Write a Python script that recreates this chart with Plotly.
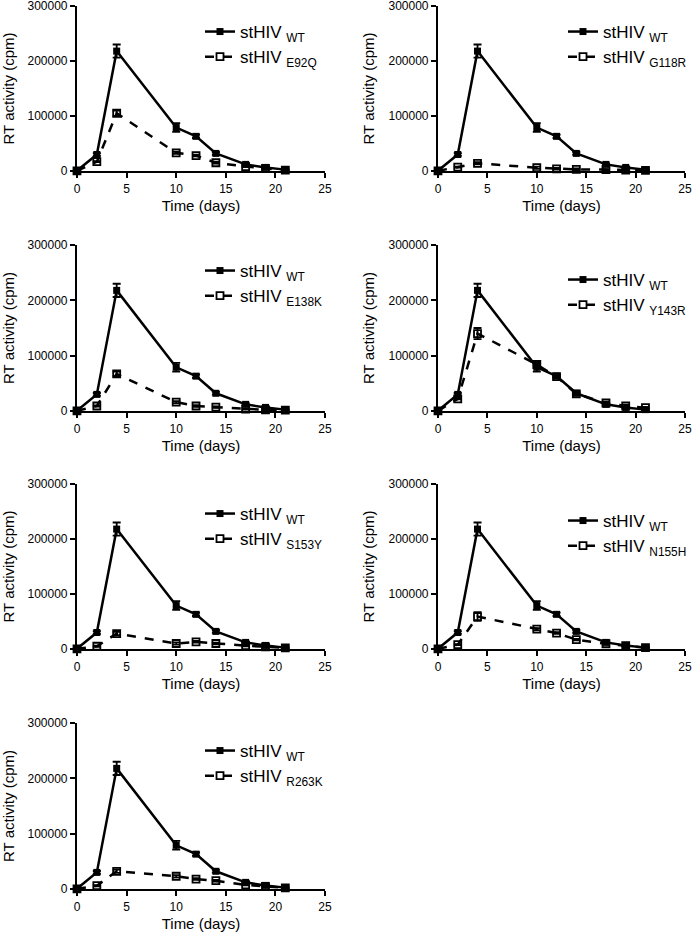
import plotly.graph_objects as go

# ---- data ----
days = [0, 2, 4, 10, 12, 14, 17, 19, 21]
wt = [500, 30000, 218000, 79000, 63000, 32000, 12000, 6500, 2500]
wt_err = [0, 2500, 12000, 8000, 3000, 2500, 2000, 1500, 1000]

mutant_names = ["E92Q", "G118R", "E138K", "Y143R", "S153Y", "N155H", "R263K"]
e92q = [300, 17000, 105000, 33000, 28000, 15000, 8000, 4500, 1500]
g118r = [300, 7000, 14000, 6000, 4000, 3000, 2500, 1500, 1000]
e138k = [300, 9000, 67000, 16000, 9000, 7000, 3500, 2000, 1500]
y143r = [300, 22000, 140000, 84000, 62000, 31000, 14500, 9000, 6000]
s153y = [300, 5000, 28000, 10000, 13000, 10000, 6000, 4000, 2000]
n155h = [300, 8000, 59000, 36000, 29000, 17000, 9500, 6000, 2500]
r263k = [300, 6000, 32000, 23000, 18000, 15000, 7500, 4500, 2000]
mutant_values = [e92q, g118r, e138k, y143r, s153y, n155h, r263k]
mut_err4 = [5000, 2000, 4000, 10000, 3000, 8000, 3000]  # error at day 4

x_ticks = [0, 5, 10, 15, 20, 25]
y_ticks = [0, 100000, 200000, 300000]
x_title = "Time (days)"
y_title = "RT activity (cpm)"

# ---- layout geometry (pixels) ----
W, H = 700, 935
cols = [(77, 325), (438, 685)]
rows = [(6, 171), (245, 411), (484, 649), (723, 889)]
legend_pos = [(200, 14), (563, 14), (200, 253), (563, 262), (200, 496), (563, 503), (200, 733)]

FONT = "Liberation Sans, Arial, Helvetica, sans-serif"

fig = go.Figure()
layout = dict(
    width=W, height=H, margin=dict(l=0, r=0, t=0, b=0, autoexpand=False),
    paper_bgcolor="white", plot_bgcolor="white",
    font=dict(family=FONT, color="black"),
    showlegend=True,
)

for i, (name, vals) in enumerate(zip(mutant_names, mutant_values)):
    r, c = divmod(i, 2)
    x0, x1 = cols[c]
    top, bot = rows[r]
    sfx = "" if i == 0 else str(i + 1)
    xa, ya = "x" + sfx, "y" + sfx
    lg = "legend" + sfx

    layout["xaxis" + sfx] = dict(
        domain=[x0 / W, x1 / W], anchor=ya, range=[0, 25], automargin=False,
        tickvals=x_ticks, showline=True, linecolor="black", linewidth=2.2,
        ticks="outside", ticklen=5, tickwidth=2.2, tickcolor="black",
        showgrid=False, zeroline=False, ticklabeloverflow="allow",
        tickfont=dict(size=12, family=FONT),
        title=dict(text=x_title, font=dict(size=15, family=FONT), standoff=6),
    )
    layout["yaxis" + sfx] = dict(
        domain=[1 - bot / H, 1 - top / H], anchor=xa, range=[0, 300000],
        automargin=False, ticklabeloverflow="allow",
        tickvals=y_ticks, tickformat="d", showline=True, linecolor="black",
        linewidth=2.2, ticks="outside", ticklen=5, tickwidth=2.2, tickcolor="black",
        showgrid=False, zeroline=False,
        tickfont=dict(size=12, family=FONT),
        title=dict(text=y_title, font=dict(size=15, family=FONT), standoff=10),
    )
    lx, ly = legend_pos[i]
    layout[lg] = dict(
        x=lx / W, y=1 - ly / H, xanchor="left", yanchor="top",
        bgcolor="rgba(0,0,0,0)", borderwidth=0,
        font=dict(size=17, family=FONT), itemwidth=30, tracegroupgap=0,
    )

    fig.add_trace(go.Scatter(
        x=days, y=wt, xaxis=xa, yaxis=ya, legend=lg,
        name="stHIV <sub>WT</sub>", mode="lines+markers",
        line=dict(color="black", width=2.5),
        marker=dict(symbol="square", size=7, color="black"),
        error_y=dict(type="data", array=wt_err, color="black", thickness=1.8, width=4),
        cliponaxis=False,
    ))
    err = [0, 1000, mut_err4[i], 2000, 1500, 1500, 1000, 800, 500]
    fig.add_trace(go.Scatter(
        x=days, y=vals, xaxis=xa, yaxis=ya, legend=lg,
        name="stHIV <sub>" + name + "</sub>", mode="lines+markers",
        line=dict(color="black", width=2.5, dash="dash"),
        marker=dict(symbol="square-open", size=7, color="black", line=dict(width=1.8)),
        error_y=dict(type="data", array=err, color="black", thickness=1.8, width=4),
        cliponaxis=False,
    ))

fig.update_layout(**layout)
fig.write_html(
    "out.html",
    config={"displayModeBar": False},
    post_script="document.body.style.margin='0px';document.documentElement.style.overflow='hidden';",
)
